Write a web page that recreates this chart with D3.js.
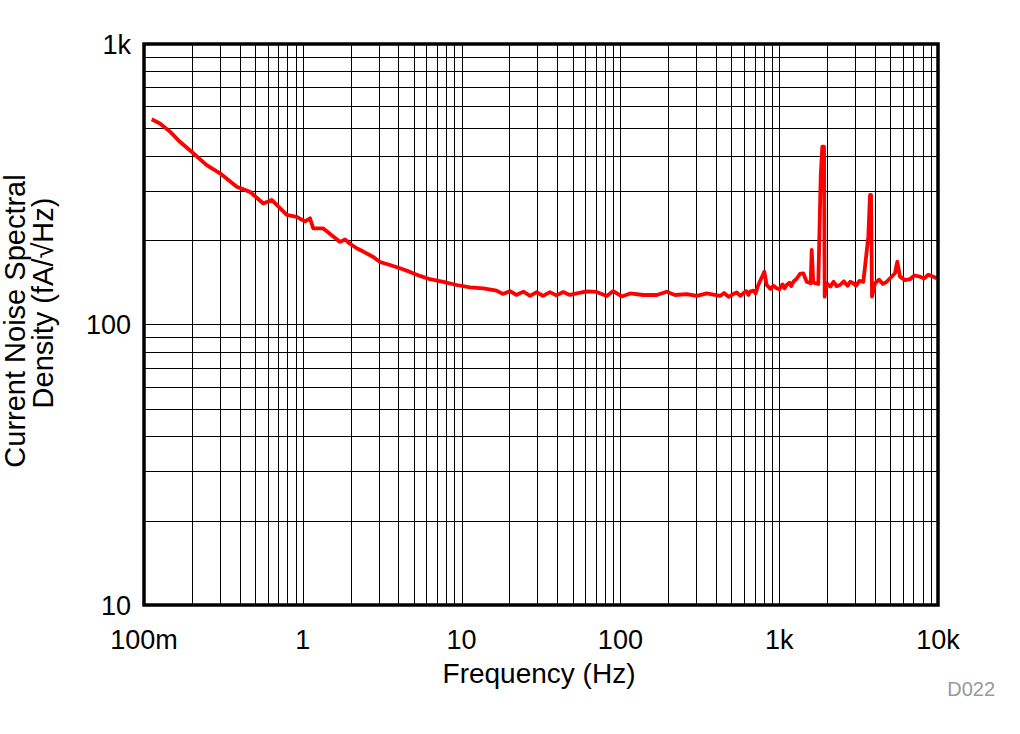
<!DOCTYPE html>
<html>
<head>
<meta charset="utf-8">
<script src="https://cdn.jsdelivr.net/npm/d3@7"></script>
<style>
  body { margin: 0; background: #fff; }
  svg text { font-family: "Liberation Sans", Arial, sans-serif; fill: #000; }
</style>
</head>
<body>
<svg id="chart" width="1020" height="734"></svg>
<script>
// frequency (Hz) and current noise (fA/rtHz)
var freq = [0.1118, 0.126, 0.1458, 0.1685, 0.2044, 0.2481, 0.3011, 0.3836, 0.465, 0.564,
  0.637, 0.792, 0.915, 1.032, 1.11, 1.164, 1.346, 1.556, 1.716, 1.844,
  1.983, 2.185, 2.404, 2.78, 3.063, 3.541, 4.094, 4.732, 5.47, 6.32,
  7.67, 9.31, 11.3, 13.7, 16.6, 18.2, 20.2, 22.1, 24.5, 27.0,
  29.7, 32.5, 36.0, 39.5, 43.7, 48.0, 53.1, 61.3, 70.9, 82.0,
  90.2, 101.9, 115, 139.4, 169.3, 195.7, 220.8, 261.5, 302.4, 349.5,
  423.9, 450, 480, 514, 540, 570, 594, 620, 640, 655,
  690, 710, 738.6, 805.8, 834.3, 880, 920, 964.5, 1000, 1050,
  1080, 1115, 1160, 1190, 1227, 1280, 1352, 1418, 1490, 1579,
  1602, 1639, 1763, 1825, 1868, 1915, 1934, 1991, 2100, 2200,
  2300, 2415, 2550, 2700, 2800, 2928, 3050, 3200, 3385, 3470,
  3640, 3731, 3786, 3842, 4013, 4250, 4500, 4752, 5359, 5541,
  5763, 6200, 6663, 7100, 7700, 8200, 8700, 9342, 9813];
var noise = [539, 521, 487, 448, 408, 370, 346, 310, 297, 270,
  278, 246, 242, 233, 239, 220, 220, 206, 197, 201,
  194, 187, 182, 174, 167, 163, 158.6, 154, 149, 145,
  142, 138.3, 135.7, 134.6, 132, 128.5, 131.5, 127.5, 131, 126.5,
  130.5, 126.5, 130.5, 127, 130.5, 127.5, 129.2, 131.3, 130.6, 126.4,
  131.6, 125.9, 129, 127.4, 127.4, 130.9, 127.4, 128.4, 126.4, 129.2,
  126.4, 129.5, 125.5, 128.4, 130, 126.5, 129.2, 131.5, 127.5, 130.9,
  132, 129, 138.3, 154.2, 138.3, 134, 137.5, 134.6, 133.5, 139,
  134.5, 138.3, 141, 137, 142, 145, 151.4, 152.2, 142, 140.3,
  184.4, 141, 139.4, 336.4, 430.5, 430.5, 125.7, 140.3, 136.5, 142,
  137, 138.3, 142.5, 137.5, 142, 140.3, 137.5, 143, 142, 160.7,
  205.6, 289.5, 289.5, 125.7, 140.3, 144.5, 139.5, 142, 152.3, 167.4,
  148.1, 144, 145.0, 149.5, 148.1, 146, 150.5, 148.1, 146.1];

var xTicks = [0.1, 1, 10, 100, 1000, 10000];
var xTickLabels = ["100m", "1", "10", "100", "1k", "10k"];
var yTicks = [10, 100, 1000];
var yTickLabels = ["10", "100", "1k"];

var svg = d3.select("#chart");
var plotL = 144, plotR = 938, plotT = 44, plotB = 605;

var x = d3.scaleLog().domain([0.1, 10000]).range([plotL, plotR]);
var y = d3.scaleLog().domain([10, 1000]).range([plotB, plotT]);

// grid: every 1..9 step of each decade
var xGrid = x.ticks().filter(function(d) { return d > 0.1 && d < 10000; });
var yGrid = y.ticks().filter(function(d) { return d > 10 && d < 1000; });

var grid = svg.append("g").attr("shape-rendering", "crispEdges");
grid.selectAll("line.v").data(xGrid).enter().append("line")
  .attr("x1", function(d) { return Math.round(x(d)) + 0.5; })
  .attr("x2", function(d) { return Math.round(x(d)) + 0.5; })
  .attr("y1", plotT).attr("y2", plotB)
  .attr("stroke", "#000").attr("stroke-width", 1);
grid.selectAll("line.h").data(yGrid).enter().append("line")
  .attr("y1", function(d) { return Math.round(y(d)) + 0.5; })
  .attr("y2", function(d) { return Math.round(y(d)) + 0.5; })
  .attr("x1", plotL).attr("x2", plotR)
  .attr("stroke", "#000").attr("stroke-width", 1);

// the trace
var pts = freq.map(function(f, i) { return [f, noise[i]]; });
var line = d3.line()
  .x(function(d) { return x(d[0]); })
  .y(function(d) { return y(d[1]); });

svg.append("path")
  .datum(pts)
  .attr("d", line)
  .attr("fill", "none")
  .attr("stroke", "#ff0000")
  .attr("stroke-width", 3.8)
  .attr("stroke-linejoin", "round");

// frame
svg.append("rect")
  .attr("x", plotL).attr("y", plotT)
  .attr("width", plotR - plotL).attr("height", plotB - plotT)
  .attr("fill", "none").attr("stroke", "#000").attr("stroke-width", 3.5);

// tick labels
svg.selectAll("text.xt").data(xTicks).enter().append("text")
  .attr("x", function(d) { return x(d); })
  .attr("y", 649)
  .attr("text-anchor", "middle")
  .style("font-size", "27px")
  .text(function(d, i) { return xTickLabels[i]; });

svg.selectAll("text.yt").data(yTicks).enter().append("text")
  .attr("x", 131)
  .attr("y", function(d) { return y(d) + 9.7; })
  .attr("text-anchor", "end")
  .style("font-size", "27px")
  .text(function(d, i) { return yTickLabels[i]; });

// axis titles
svg.append("text")
  .attr("x", 539).attr("y", 683)
  .attr("text-anchor", "middle")
  .style("font-size", "28px")
  .text("Frequency (Hz)");

svg.append("text")
  .attr("transform", "translate(25,321) rotate(-90)")
  .attr("text-anchor", "middle")
  .style("font-size", "29px")
  .text("Current Noise Spectral");
svg.append("text")
  .attr("transform", "translate(53,303) rotate(-90)")
  .attr("text-anchor", "middle")
  .style("font-size", "29px")
  .text("Density  (fA/\u221AHz)");

svg.append("text")
  .attr("x", 995).attr("y", 696)
  .attr("text-anchor", "end")
  .style("font-size", "20px")
  .style("fill", "#999")
  .text("D022");
</script>
</body>
</html>
